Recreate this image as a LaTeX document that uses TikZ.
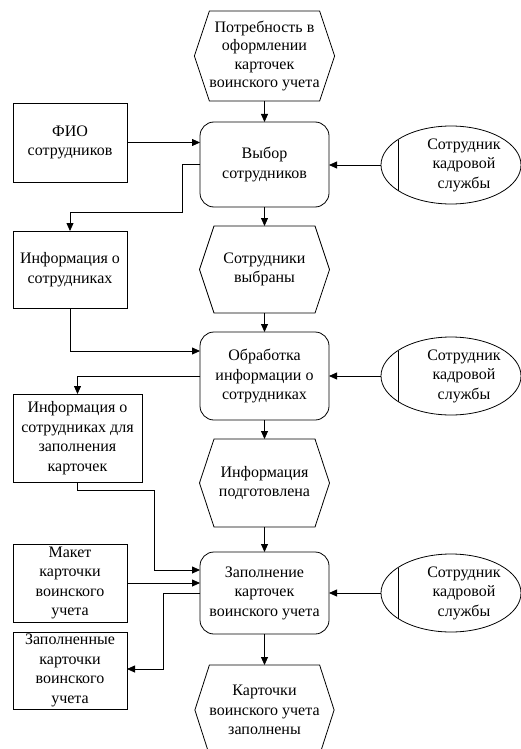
\documentclass[tikz,border=0pt]{standalone}
\usepackage{fontspec}
\setmainfont{Liberation Serif}
\usetikzlibrary{shapes.geometric,arrows.meta}
\newcommand\hexoutline[2]{\draw[ln] (#1.north west) -- (#1.north east) -- ([xshift=#2]#1.east) -- (#1.south east) -- (#1.south west) -- ([xshift=-#2]#1.west) -- cycle;}
\newcommand\ellbar[1]{\draw[ln] ([xshift=-53pt,yshift=25.5pt]#1.center) -- ([xshift=-53pt,yshift=-25.5pt]#1.center);}
\begin{document}
\begin{tikzpicture}[x=1pt,y=-1pt,
  ln/.style={line width=0.8pt,black},
  every node/.style={font=\fontsize{16}{19.5}\selectfont, align=center, inner sep=0pt, outer sep=0pt},
  proc/.style={ln, draw, rounded corners=14pt, minimum width=129pt, minimum height=#1},
  box/.style={ln, draw, rectangle, minimum width=114pt, minimum height=#1},
  hexnode/.style={minimum width=101pt, minimum height=#1},
  ell/.style={ln, draw, ellipse, minimum width=140pt, minimum height=78pt},
  arr/.style={ln, -{Triangle[length=8pt,width=7pt]}}
]
\useasboundingbox (0,0) rectangle (521,749);

% middle column
\node[hexnode=90pt, minimum width=110pt, font=\fontsize{16}{18.5}\selectfont] (h1) at (264.5,56) {Потребность в\\оформлении\\карточек\\воинского учета};
\hexoutline{h1}{15pt}
\node[proc=85pt] (p1) at (264.5,164.5) {Выбор\\сотрудников};
\node[hexnode=87pt] (h2) at (264.5,269.5) {Сотрудники\\выбраны};
\hexoutline{h2}{14.5pt}
\node[proc=88pt] (p2) at (264.5,376) {Обработка\\информации о\\сотрудниках};
\node[hexnode=88pt] (h3) at (264.5,483) {Информация\\подготовлена};
\hexoutline{h3}{14.5pt}
\node[proc=82pt] (p3) at (264.5,593) {Заполнение\\карточек\\воинского учета};
\node[hexnode=90pt] (h4) at (264.5,710) {Карточки\\воинского учета\\заполнены};
\hexoutline{h4}{14.5pt}

% left column
\node[box=79pt] (f1) at (70,142.5) {ФИО\\сотрудников};
\node[box=77pt] (i1) at (70,269.5) {Информация о\\сотрудниках};
\node[box=88pt, minimum width=129pt] (i2) at (77.5,438) {Информация о\\сотрудниках для\\заполнения\\карточек};
\node[box=78pt] (m) at (70,583) {Макет\\карточки\\воинского\\учета};
\node[box=77pt] (z) at (70,670.5) {Заполненные\\карточки\\воинского\\учета};

% right column
\node[ell] (e1) at (451,165) {};
\ellbar{e1}
\node (e1t) at ([xshift=13pt]e1.center) {Сотрудник\\кадровой\\службы};
\node[ell] (e2) at (451,376) {};
\ellbar{e2}
\node (e2t) at ([xshift=13pt]e2.center) {Сотрудник\\кадровой\\службы};
\node[ell] (e3) at (451,593) {};
\ellbar{e3}
\node (e3t) at ([xshift=13pt]e3.center) {Сотрудник\\кадровой\\службы};

% bend points
\coordinate (c1) at (182,212);
\coordinate (c2) at (154,490);
\coordinate (c3) at (163,669);

% connectors
\draw[arr] (h1.south) -- (p1.north);
\draw[arr] (f1.east) -- (f1.east -| p1.west);
\draw[arr] (e1.west) -- (e1.west -| p1.east);
\draw[arr] (p1.west) -| (c1) -| (i1.north);
\draw[arr] (p1.south) -- (h2.north);
\draw[arr] (h2.south) -- (p2.north);
\draw[arr] (i1.south) |- ([yshift=-19pt]p2.north west);
\draw[arr] (e2.west) -- (e2.west -| p2.east);
\draw[arr] (p2.west) -| (i2.north);
\draw[arr] (p2.south) -- (h3.north);
\draw[arr] (h3.south) -- (p3.north);
\draw[arr] (i2.south) |- (c2) |- ([yshift=-18pt]p3.north west);
\draw[arr] (m.east) -- (m.east -| p3.west);
\draw[arr] (e3.west) -- (e3.west -| p3.east);
\draw[arr] (p3.west) -| (c3) -- (c3 -| z.east);
\draw[arr] (p3.south) -- (h4.north);
\end{tikzpicture}
\end{document}
